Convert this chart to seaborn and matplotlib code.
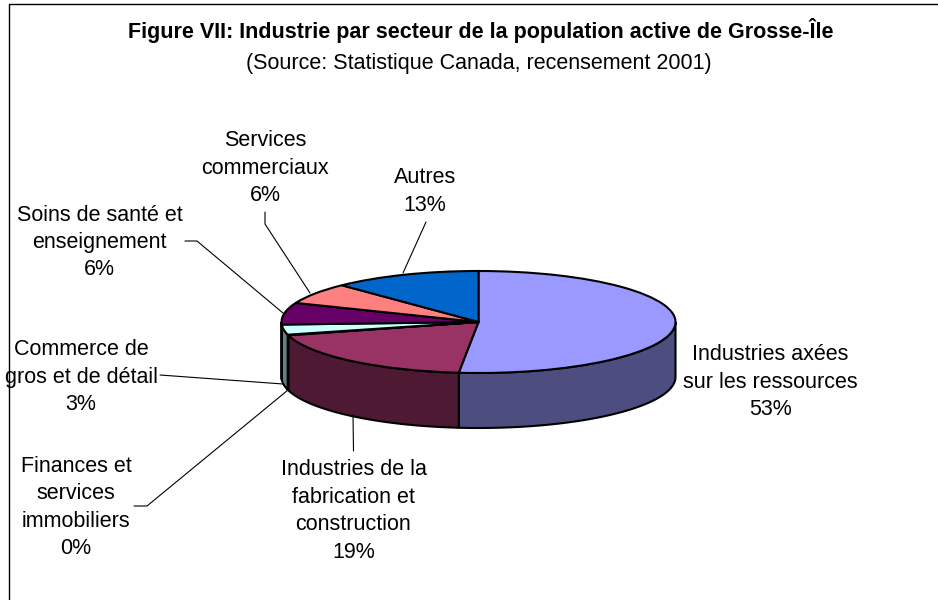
import numpy as np
import matplotlib
matplotlib.use("Agg")
import matplotlib.pyplot as plt
from matplotlib.lines import Line2D
import seaborn as sns

# ---- data -------------------------------------------------------------
categories = ["Industries axées\nsur les ressources",
              "Industries de la\nfabrication et\nconstruction",
              "Finances et\nservices\nimmobiliers",
              "Commerce de\ngros et de détail",
              "Soins de santé et\nenseignement",
              "Services\ncommerciaux",
              "Autres"]
percent_labels = [53, 19, 0, 3, 6, 6, 13]
# visible share of each slice as read from the drawn ellipse
slice_shares = [51.6, 19.2, 0.2, 3.2, 6.9, 6.7, 12.2]
top_colors = ["#9999FF", "#993366", "#FFFFCC", "#CCFFFF", "#660066", "#FF8080", "#0066CC"]
wall_colors = ["#4D4D80", "#4D1933", "#808066", "#668080", "#330033", "#804040", "#003366"]
title_text = "Figure VII: Industrie par secteur de la population active de Grosse-Île"
subtitle_text = "(Source: Statistique Canada, recensement 2001)"

# ---- layout (pixels of the 938x600 picture) ----------------------------
W, H = 938, 600
CX, CY, RX, RY, DEPTH = 478.5, 322, 197, 51, 55
label_pos = [(770.5, 382), (353.5, 511), (76, 507.5), (81, 377), (99.5, 242.5), (265, 168), (425, 191.5)]
leaders = [None,
           [(353, 415), (353.5, 451)],
           [(134, 506), (147, 506), (288, 390)],
           [(160, 375), (283, 384)],
           [(185, 241), (197, 241), (283, 313)],
           [(265, 212), (265, 224), (310, 293)],
           [(426, 222), (403, 273)]]

sns.set_theme(style="white")
plt.rcParams["font.family"] = ["Liberation Sans", "DejaVu Sans"]
palette = sns.color_palette(top_colors)

fig = plt.figure(figsize=(W / 100, H / 100), dpi=100, facecolor="white")
ax = fig.add_axes([0, 0, 1, 1])
ax.pie(slice_shares, colors=palette, startangle=90, counterclock=False,
       wedgeprops=dict(edgecolor="black", linewidth=1.5))
ax.set_aspect("auto")
ax.set_xlim(-CX / RX, (W - CX) / RX)
ax.set_ylim((CY - H) / RY, CY / RY)
ax.axis("off")

# side wall: clockwise angle from 12 o'clock, only the front half shows
edges = np.concatenate([[0], np.cumsum(slice_shares)]) / np.sum(slice_shares) * 360
depth = DEPTH / RY
for a0, a1, col in zip(edges[:-1], edges[1:], wall_colors):
    lo, hi = max(a0, 90), min(a1, 270)
    if hi <= lo:
        continue
    t = np.radians(np.linspace(lo, hi, 80))
    x, y = np.sin(t), np.cos(t)
    ax.fill(np.r_[x, x[::-1]], np.r_[y, y[::-1] - depth], facecolor=col,
            edgecolor="black", linewidth=1.5, zorder=0.5)

# texts
def fx(px): return px / W
def fy(py): return 1 - py / H

for name, pct, (px, py) in zip(categories, percent_labels, label_pos):
    fig.text(fx(px), fy(py), f"{name}\n{pct}%", ha="center", va="center",
             fontsize=15.5, color="black", linespacing=1.4)
for seg in leaders:
    if seg:
        xs, ys = zip(*seg)
        fig.add_artist(Line2D([fx(v) for v in xs], [fy(v) for v in ys],
                              color="black", lw=0.8))
fig.text(fx(481), fy(30.5), title_text, ha="center", va="center",
         fontsize=15.5, fontweight="bold", color="black")
fig.text(fx(479), fy(63), subtitle_text, ha="center", va="center",
         fontsize=15.5, color="black")

# chart frame
fig.add_artist(Line2D([fx(8.5), fx(8.5), 1], [0, fy(3.5), fy(3.5)], color="black", lw=1.0))

fig.savefig("out.png", dpi=100)
